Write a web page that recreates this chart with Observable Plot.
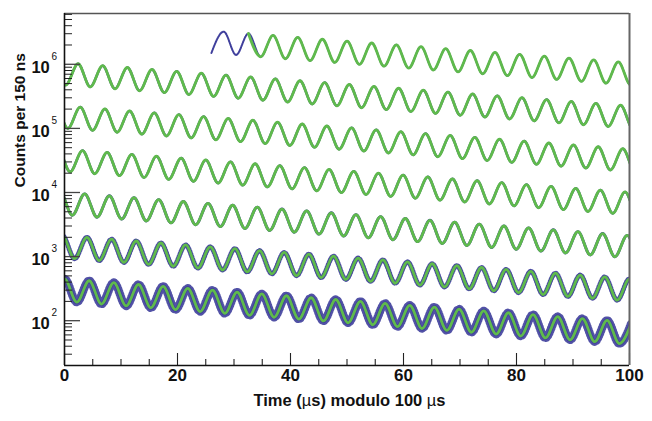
<!DOCTYPE html>
<html><head><meta charset="utf-8">
<script src="https://cdn.jsdelivr.net/npm/d3@7"></script>
<script src="https://cdn.jsdelivr.net/npm/@observablehq/plot@0.6"></script>
<style>html,body{margin:0;padding:0;background:#fff}</style>
</head><body><div id="chart"></div>
<script>
// Extrema of the decay wiggle, absolute time in µs
const troughTime = [26.00,30.37,34.73,39.10,43.46,47.83,52.19,56.56,60.92,65.29,
69.65,74.02,78.38,82.75,87.11,91.48,95.84,100.21,104.57,108.94,
113.30,117.67,122.03,126.40,130.76,135.13,139.49,143.86,148.22,152.59,
156.95,161.32,165.68,170.05,174.41,178.78,183.14,187.51,191.87,196.24,
200.60,204.97,209.33,213.70,218.06,222.43,226.79,231.16,235.52,239.89,
244.25,248.62,252.98,257.35,261.71,266.08,270.44,274.81,279.17,283.54,
287.90,292.27,296.63,301.00,305.36,309.73,314.09,318.46,322.82,327.19,
331.55,335.92,340.28,344.65,349.01,353.38,357.74,362.11,366.47,370.84,
375.20,379.57,383.93,388.30,392.66,397.03,401.39,405.76,410.12,414.49,
418.85,423.22,427.58,431.95,436.31,440.68,445.04,449.41,453.77,458.14,
462.50,466.87,471.23,475.60,479.96,484.33,488.69,493.06,497.42,501.79,
506.15,510.52,514.88,519.25,523.61,527.98,532.34,536.71,541.07,545.44,
549.80,554.17,558.53,562.90,567.26,571.63,575.99,580.36,584.72,589.09,
593.45,597.82,602.18,606.55,610.91,615.28,619.64,624.01,628.37,632.74,
637.10,641.47,645.83,650.20,654.56,658.93,663.29,667.66,672.02,676.39,
680.75,685.12,689.48,693.85,698.21];
const troughCounts = [1500000,1400000,1310000,1220000,1140000,1070000,998000,933000,871000,814000,
761000,711000,665000,621000,580000,542000,507000,474000,443000,414000,
386000,361000,337000,315000,295000,275000,257000,240000,225000,210000,
196000,183000,171000,160000,
150000,140000,131000,122000,114000,107000,99600,93100,87000,81300,
76000,71000,66300,62000,57900,54100,50600,47300,44200,41300,
38600,36100,33700,31500,29400,27500,25700,24000,22400,21000,
19600,18300,17100,16000,
14900,14000,13000,12200,11400,10600,9950,9290,8680,8120,
7580,7090,6620,6190,5780,5400,5050,4720,4410,4120,
3850,3600,3360,3140,2940,2740,2560,2400,2240,2090,
1960,1830,1710,1600,
1490,1390,1300,1220,1140,1060,993,928,867,810,
757,707,661,618,577,539,504,471,440,411,
384,359,336,314,293,274,256,239,224,209,
195,182,170,159,
149,139,130,121,113,106,99.1,92.6,86.5,80.8,
75.6,70.6,66.0,61.7,57.6,53.8,50.3,47.1,44.0];
const peakTime = [28.18,32.55,36.91,41.28,45.64,50.01,54.37,58.74,63.10,67.47,
71.83,76.20,80.56,84.93,89.29,93.66,98.02,102.39,106.75,111.12,
115.48,119.85,124.21,128.58,132.94,137.31,141.67,146.04,150.40,154.77,
159.13,163.50,167.86,172.23,176.59,180.96,185.32,189.69,194.05,198.42,
202.78,207.15,211.51,215.88,220.24,224.61,228.97,233.34,237.70,242.07,
246.43,250.80,255.16,259.53,263.89,268.26,272.62,276.99,281.35,285.72,
290.08,294.45,298.81,303.18,307.54,311.91,316.27,320.64,325.00,329.37,
333.73,338.10,342.46,346.83,351.19,355.56,359.92,364.29,368.65,373.02,
377.38,381.75,386.11,390.48,394.84,399.21,403.57,407.94,412.30,416.67,
421.03,425.40,429.76,434.13,438.49,442.86,447.22,451.59,455.95,460.32,
464.68,469.05,473.41,477.78,482.14,486.51,490.87,495.24,499.60,503.97,
508.33,512.70,517.06,521.43,525.79,530.16,534.52,538.89,543.25,547.62,
551.98,556.35,560.71,565.08,569.44,573.81,578.17,582.54,586.90,591.27,
595.63,600.00,604.36,608.73,613.09,617.46,621.82,626.19,630.55,634.92,
639.28,643.65,648.01,652.38,656.74,661.11,665.47,669.84,674.20,678.57,
682.93,687.30,691.66,696.03,700.39];
const peakCounts = [3230000,3020000,2820000,2630000,2460000,2300000,2150000,2010000,1880000,1750000,
1640000,1530000,1430000,1340000,1250000,1170000,1090000,1020000,953000,891000,
832000,778000,727000,679000,635000,593000,554000,518000,484000,452000,
423000,395000,369000,345000,
322000,301000,282000,263000,246000,230000,215000,201000,187000,175000,
164000,153000,143000,134000,125000,117000,109000,102000,95100,88900,
83100,77600,72600,67800,63400,59200,55300,51700,48300,45100,
42200,39400,36800,34400,
32200,30100,28100,26300,24500,22900,21400,20000,18700,17500,
16300,15300,14300,13300,12500,11600,10900,10200,9500,8880,
8290,7750,7240,6770,6320,5910,5520,5160,4820,4510,
4210,3930,3680,3440,
3210,3000,2810,2620,2450,2290,2140,2000,1870,1750,
1630,1520,1420,1330,1240,1160,1090,1015,948,886,
828,774,723,676,631,590,551,515,482,450,
420,393,367,343,
320,300,280,262,245,228,214,200,186,174,
163,152,142,133,124,116,108,101,94.6];

const fitStart = 32;          // µs, start of the fitted curve
const period = 100;           // time modulo 100 µs
const rows = [0,1,2,3,4,5,6];

const xMajorTicks = [0,20,40,60,80,100];
const xMinorTicks = [5,10,15,25,30,35,45,50,55,65,70,75,85,90,95];
const yMajorTicks = [1e2,1e3,1e4,1e5,1e6];
const yExponents = ["2","3","4","5","6"];
const yMinorTicks = [20,30,40,50,60,70,80,90,
  200,300,400,500,600,700,800,900,
  2000,3000,4000,5000,6000,7000,8000,9000,
  20000,30000,40000,50000,60000,70000,80000,90000,
  200000,300000,400000,500000,600000,700000,800000,900000,
  2000000,3000000,4000000,5000000,6000000];

// styles
const BLUE = "#3f3f9c", GREEN = "#5fba4c";
const blueWidth = [2.0,2.5,2.5,2.6,2.9,3.5,4.4];
const fuzzWidth = [0,0,0,0,0,5,8.5];

// build table
const extrema = [];
troughTime.forEach((t,i)=>extrema.push({t, counts: troughCounts[i]}));
peakTime.forEach((t,i)=>extrema.push({t, counts: peakCounts[i]}));
extrema.sort((a,b)=>a.t-b.t);
const table = [];
for (const r of rows) for (const e of extrema)
  if (e.t >= period*r - 5 && e.t <= period*r + period + 5)
    table.push({row: r, x: e.t - period*r, counts: e.counts, t: e.t});

const FW = 652-64-23, FH = 421-13-56;
const marks = [];
for (const r of rows) {
  const d = table.filter(p=>p.row===r);
  if (fuzzWidth[r] > 0)
    marks.push(Plot.line(d, {x:"x", y:"counts", stroke: BLUE, strokeWidth: fuzzWidth[r], strokeDasharray: "0.5 2.2", strokeOpacity: 0.9, curve:"monotone-x", clip:true}));
  marks.push(Plot.line(d, {x:"x", y:"counts", stroke: BLUE, strokeWidth: blueWidth[r],
    strokeDasharray: r === 0 ? "1 0.9" : null, curve:"monotone-x", clip:true}));
}
marks.push(Plot.line(table.filter(p=>p.t >= fitStart), {x:"x", y:"counts", z:"row", stroke: GREEN, strokeWidth: 2.8, curve:"monotone-x", clip:true}));

// inward ticks
marks.push(Plot.tickX(xMajorTicks, {x: d=>d, insetTop: FH-12, stroke:"#222", strokeWidth:1.1}));
marks.push(Plot.tickX(xMinorTicks, {x: d=>d, insetTop: FH-6, stroke:"#222", strokeWidth:1.1}));
marks.push(Plot.tickY(yMajorTicks, {y: d=>d, insetRight: FW-16, stroke:"#444", strokeWidth:1.3}));
marks.push(Plot.tickY(yMinorTicks, {y: d=>d, insetRight: FW-8, stroke:"#222", strokeWidth:1}));
// frame
marks.push(Plot.ruleY([6.2e6], {stroke:"#555", strokeWidth:1.6}));
marks.push(Plot.ruleX([100], {stroke:"#666", strokeWidth:2}));
marks.push(Plot.ruleX([0], {stroke:"#111", strokeWidth:1.6}));
marks.push(Plot.ruleY([20], {stroke:"#111", strokeWidth:1.6}));
// labels
marks.push(Plot.text(xMajorTicks, {x: d=>d, frameAnchor:"bottom", dy: 15.5, text: d=>String(d), fontSize:17, fontWeight:"bold", fill:"#111"}));
marks.push(Plot.text(yMajorTicks, {y: d=>d, frameAnchor:"left", dx:-14.7, dy:3.2, textAnchor:"end", text: ()=>"10", fontSize:16.5, fontWeight:"bold", fill:"#111"}));
marks.push(Plot.text(yMajorTicks, {y: d=>d, frameAnchor:"left", dx:-13, dy:-7.6, textAnchor:"start", text: (d,i)=>yExponents[i], fontSize:10, fill:"#111"}));
marks.push(Plot.text(["Time (µs) modulo 100 µs"], {frameAnchor:"bottom", dx:2.5, dy:40, text: d=>d, fontSize:16.5, fontWeight:"bold", fill:"#111"}));
marks.push(Plot.text(["Counts per 150 ns"], {frameAnchor:"left", dx:-44, dy:-2, rotate:-90, text: d=>d, fontSize:15.5, fontWeight:"bold", fill:"#111"}));

const chart = Plot.plot({
  width: 652, height: 421,
  marginLeft: 64, marginRight: 23, marginTop: 13, marginBottom: 56,
  style: {fontFamily: "'Liberation Sans', Arial, Helvetica, sans-serif", background: "#fff", overflow: "visible"},
  x: {domain: [0, 100], axis: null},
  y: {type: "log", domain: [20, 6.2e6], axis: null},
  marks
});
document.getElementById("chart").appendChild(chart);

// lighter µ glyphs in the x title
d3.select(chart).selectAll("text").each(function() {
  if (this.textContent === "Time (µs) modulo 100 µs") {
    const t = d3.select(this);
    const tgt = this.querySelector("tspan") ? d3.select(this.querySelector("tspan")) : t;
    tgt.text(null);
    const parts = [["Time (", true],["µ", false],["s) modulo 100 ", true],["µ", false],["s", true]];
    for (const [s,b] of parts) tgt.append("tspan").attr("font-weight", b ? "bold" : "normal").text(s);
  }
});
</script>
</body></html>
